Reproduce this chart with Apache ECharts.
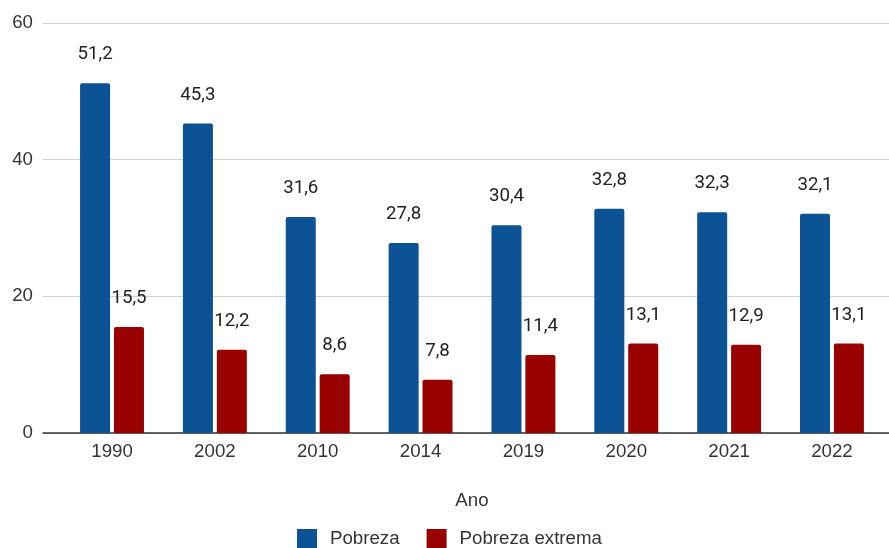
<!DOCTYPE html>
<html><head><meta charset="utf-8">
<script src="https://cdn.jsdelivr.net/npm/echarts@6/dist/echarts.min.js"></script>
<style>html,body{margin:0;padding:0;background:#fff}#c{width:889px;height:548px}</style>
</head><body><div id="c"></div>
<script>
const categories = ['1990','2002','2010','2014','2019','2020','2021','2022'];
const pobreza = [51.2, 45.3, 31.6, 27.8, 30.4, 32.8, 32.3, 32.1];
const pobrezaExtrema = [15.5, 12.2, 8.6, 7.8, 11.4, 13.1, 12.9, 13.1];
const yTicks = [0, 20, 40, 60];

const chart = echarts.init(document.getElementById('c'), null, {renderer:'canvas'});
const labelFont = 'Roboto, "Noto Sans", sans-serif';
const axisFont = '"Liberation Sans", Arial, sans-serif';
const fs = 18.7;
const fmt = p => String(p.value).replace('.', ',');
chart.setOption({
  animation: false,
  textStyle: {fontFamily: axisFont},
  grid: [
    {left: 43, right: 0, top: 23, bottom: 115},
    {left: 60.6, right: 5.6, top: 23, bottom: 115}
  ],
  xAxis: [
    {gridIndex: 0, type: 'value', min: 0, max: 1, axisLabel: {show: false}, axisTick: {show: false}, splitLine: {show: false},
     axisLine: {show: true, onZero: false, lineStyle: {color: '#333', width: 1.5}}},
    {gridIndex: 1, type: 'category', data: categories, axisTick: {show: false}, axisLine: {show: false},
     axisLabel: {fontSize: fs, color: '#333', margin: 9, fontFamily: axisFont},
     name: 'Ano', nameLocation: 'middle', nameGap: 58,
     nameTextStyle: {fontSize: fs, color: '#333', fontFamily: axisFont}}
  ],
  yAxis: [
    {gridIndex: 0, type: 'value', min: yTicks[0], max: yTicks[yTicks.length-1], interval: 20,
     axisLine: {show: false}, axisTick: {show: false},
     axisLabel: {fontSize: fs, color: '#333', margin: 10, fontFamily: axisFont},
     splitLine: {lineStyle: {color: '#d0d0d0', width: 1}}},
    {gridIndex: 1, type: 'value', min: yTicks[0], max: yTicks[yTicks.length-1], interval: 20,
     show: false, splitLine: {show: false}}
  ],
  legend: {
    left: 297, top: 529, padding: 0, itemWidth: 20, itemHeight: 19, itemGap: 27,
    icon: 'rect',
    textStyle: {fontSize: fs, lineHeight: 19, color: '#333', fontFamily: axisFont, padding: [0,0,0,8]},
    data: ['Pobreza', 'Pobreza extrema']
  },
  series: [
    {name: 'Pobreza', type: 'bar', xAxisIndex: 1, yAxisIndex: 1, data: pobreza,
     barWidth: 30, barGap: '13%', itemStyle: {color: '#0b5394', borderRadius: [2,2,0,0]},
     label: {show: true, position: 'top', distance: 19, fontSize: fs, color: '#222', fontFamily: labelFont, formatter: fmt}},
    {name: 'Pobreza extrema', type: 'bar', xAxisIndex: 1, yAxisIndex: 1, data: pobrezaExtrema,
     barWidth: 30, barGap: '13%', itemStyle: {color: '#990000', borderRadius: [2,2,0,0]},
     label: {show: true, position: 'top', distance: 19, fontSize: fs, color: '#222', fontFamily: labelFont, formatter: fmt}}
  ]
});
</script></body></html>
